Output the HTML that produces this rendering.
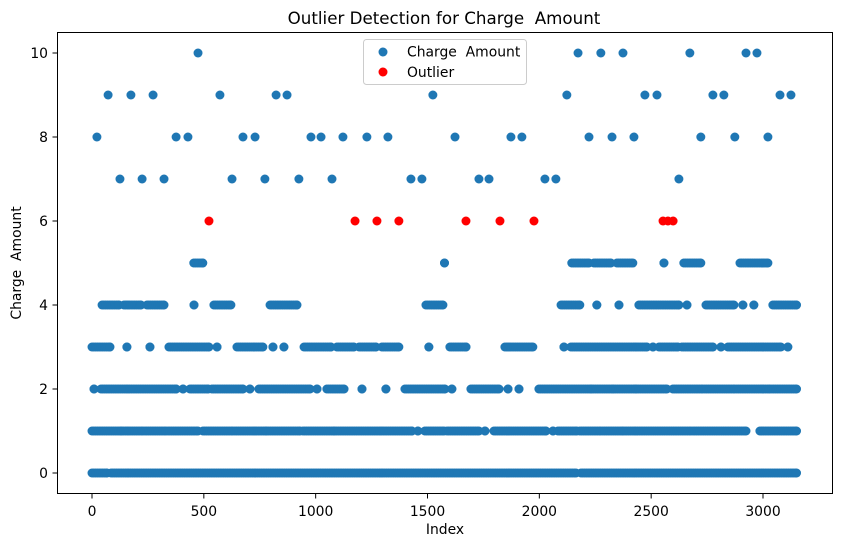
<!DOCTYPE html>
<html><head><meta charset="utf-8">
<style>
body{margin:0;background:#fff;}
svg{display:block;font-family:"DejaVu Sans","Liberation Sans",sans-serif;}
text{white-space:pre;}
</style></head>
<body>
<svg id="chart" width="841" height="547" viewBox="0 0 841 547">
<text x="444" y="24" text-anchor="middle" font-size="16.7" fill="#000">Outlier Detection for Charge  Amount</text>
<g id="marks"></g>
<rect x="57.5" y="32.5" width="775" height="461" fill="none" stroke="#000" stroke-width="1"/>
<g id="axes"></g>
<text x="445" y="534" text-anchor="middle" font-size="13.9">Index</text>
<text transform="translate(21,263) rotate(-90)" text-anchor="middle" font-size="13.9">Charge  Amount</text>
<g>
<rect x="363.5" y="39.5" width="163" height="45" rx="3" fill="#fff" fill-opacity="0.8" stroke="#ccc"/>
<circle cx="383" cy="52" r="4.5" fill="#1f77b4"/>
<text x="407" y="56.5" font-size="13.9">Charge  Amount</text>
<circle cx="383" cy="72" r="4.5" fill="red"/>
<text x="407" y="77" font-size="13.9">Outlier</text>
</g>
</svg>
<script>
const xTicks=[0,500,1000,1500,2000,2500,3000];
const yTicks=[0,2,4,6,8,10];
// runs of [startIndex,endIndex] for each charge level
const level0=[[0,67],[85,2164],[2186,3150]];
const level1=[[0,130],[134,228],[237,331],[340,474],[496,630],[639,778],[782,930],[943,1082],[1086,1430],[1457,1457],[1488,1574],[1587,1730],[1757,1757],[1797,2029],[2061,2061],[2083,2168],[2181,2275],[2284,2374],[2383,2678],[2687,2924],[2986,3150]];
const level2=[[9,9],[40,376],[407,407],[438,519],[536,675],[706,706],[746,975],[1006,1006],[1050,1127],[1207,1207],[1314,1314],[1399,1578],[1609,1609],[1694,1820],[1860,1860],[1909,1909],[1998,2231],[2235,2329],[2333,2432],[2436,2570],[2597,2731],[2740,2874],[2883,3031],[3040,3150]];
const level3=[[0,80],[156,156],[259,259],[344,523],[559,559],[648,764],[809,809],[858,858],[948,1068],[1095,1171],[1194,1270],[1296,1372],[1506,1506],[1600,1672],[1846,1971],[2110,2110],[2141,2481],[2508,2508],[2535,2620],[2637,2776],[2812,2812],[2843,3080],[3111,3111]];
const level4=[[45,121],[143,219],[246,322],[456,456],[545,621],[796,916],[1493,1569],[2097,2181],[2257,2257],[2356,2356],[2445,2624],[2660,2660],[2745,2870],[2910,2910],[2959,2959],[3044,3150]];
const level5=[[455,495],[1576,1576],[2145,2222],[2244,2320],[2347,2418],[2557,2557],[2646,2722],[2897,3022]];
const level7=[125,224,322,626,773,925,1073,1426,1475,1730,1775,2025,2074,2624];
const level8=[22,376,429,675,729,979,1024,1122,1229,1323,1623,1873,1922,2222,2325,2423,2722,2874,3022];
const level9=[72,174,273,572,823,872,1524,2123,2472,2526,2776,2825,3076,3125];
const level10=[474,2173,2275,2374,2673,2924,2973];
const outliers=[523,1176,1274,1372,1672,1824,1976,2553,2575,2598];
const outlierValue=6;

const X=i=>92+i*(671/3000);
const Y=v=>473-v*42;
const NS="http://www.w3.org/2000/svg";
const marks=document.getElementById('marks');
const axes=document.getElementById('axes');
function dot(i,v,color,name){
  const c=document.createElementNS(NS,'circle');
  c.setAttribute('cx',X(i).toFixed(2));c.setAttribute('cy',Y(v).toFixed(2));
  c.setAttribute('r',4.5);c.setAttribute('fill',color);
  
  
  marks.appendChild(c);
}
function runs(arr,v){
  arr.forEach(r=>{for(let i=r[0];i<=r[1];i+=8)dot(i,v,'#1f77b4','charge-point');dot(r[1],v,'#1f77b4','charge-point');});
}
runs(level0,0);runs(level1,1);runs(level2,2);runs(level3,3);runs(level4,4);runs(level5,5);
[[level7,7],[level8,8],[level9,9],[level10,10]].forEach(([a,v])=>a.forEach(i=>dot(i,v,'#1f77b4','charge-point')));
outliers.forEach(i=>dot(i,outlierValue,'red','outlier-point'));

xTicks.forEach(t=>{
  const l=document.createElementNS(NS,'line');
  l.setAttribute('x1',X(t));l.setAttribute('x2',X(t));l.setAttribute('y1',493.5);l.setAttribute('y2',498.5);l.setAttribute('stroke','#000');
  
  
  axes.appendChild(l);
  const s=document.createElementNS(NS,'text');
  s.setAttribute('x',X(t));s.setAttribute('y',516);s.setAttribute('text-anchor','middle');s.setAttribute('font-size','13.9');
  s.textContent=t;
  
  
  axes.appendChild(s);
});
yTicks.forEach(t=>{
  const l=document.createElementNS(NS,'line');
  l.setAttribute('x1',52.5);l.setAttribute('x2',57.5);l.setAttribute('y1',Y(t));l.setAttribute('y2',Y(t));l.setAttribute('stroke','#000');
  
  
  axes.appendChild(l);
  const s=document.createElementNS(NS,'text');
  s.setAttribute('x',48);s.setAttribute('y',Y(t)+5);s.setAttribute('text-anchor','end');s.setAttribute('font-size','13.9');
  s.textContent=t;
  
  
  axes.appendChild(s);
});
</script>
</body></html>
